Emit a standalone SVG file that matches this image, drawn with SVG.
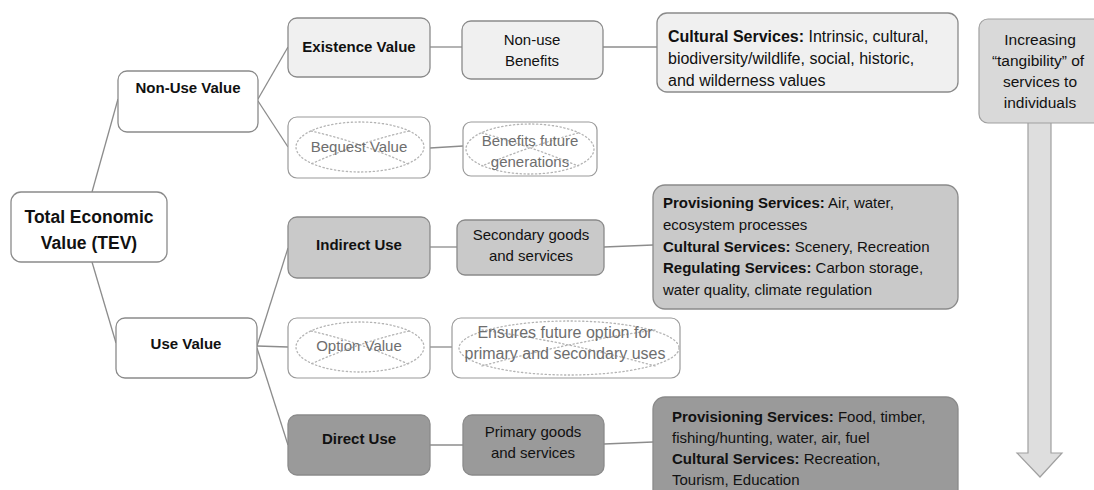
<svg xmlns="http://www.w3.org/2000/svg" width="1094" height="490" viewBox="0 0 1094 490">
  <style>
    text { font-family: "Liberation Sans", Arial, sans-serif; fill: #111; }
    .box { stroke: #8a8a8a; stroke-width: 1.3; }
    .white { fill: #ffffff; }
    .light { fill: #f0f0f0; }
    .mid { fill: #c9c9c9; }
    .dark { fill: #9a9a9a; }
    .tag { fill: #d9d9d9; }
    .faint { fill: #ffffff; stroke: #9a9a9a; stroke-width: 1.2; }
    .dots { fill: none; stroke: #b4b4b4; stroke-width: 1.3; stroke-dasharray: 1.3 2.6; stroke-linecap: round; }
    .lbl { font-size: 15px; font-weight: bold; text-anchor: middle; }
    .big { font-size: 17.5px; font-weight: bold; text-anchor: middle; }
    .sub { font-size: 15px; text-anchor: middle; }
    .ghost { font-size: 15px; text-anchor: middle; fill: #6e6e6e; }
    .para { font-size: 15px; }
    .para tspan.b { font-weight: bold; }
    .wide { font-size: 16px; }
    .tall { font-size: 15.5px; }
    .conn { stroke: #8c8c8c; stroke-width: 1.3; fill: none; }
  </style>

  <!-- connectors -->
  <g id="connectors" class="conn">
    <path d="M92,192 L118,99"/>
    <path d="M92,262 L116,343"/>
    <path d="M258,99 L288,47"/>
    <path d="M258,101 L288,147"/>
    <path d="M257,346 L288,248"/>
    <path d="M257,346 L288,347"/>
    <path d="M257,348 L288,445"/>
    <path d="M430,47 L462,47"/>
    <path d="M430,148 L463,146"/>
    <path d="M603,47 L657,47"/>
    <path d="M430,247 L457,247"/>
    <path d="M604,247 L653,245"/>
    <path d="M430,347 L452,347"/>
    <path d="M430,445 L463,445"/>
    <path d="M604,444 L653,442"/>
  </g>

  <!-- column 1 -->
  <g id="tev">
    <rect class="box white" x="11" y="192" width="156" height="70" rx="10"/>
    <text class="big" x="89" y="223">Total Economic</text>
    <text class="big" x="89" y="249">Value (TEV)</text>
  </g>

  <!-- column 2 -->
  <g id="non-use-value">
    <rect class="box white" x="118" y="71" width="140" height="61" rx="9"/>
    <text class="lbl" x="188" y="93">Non-Use Value</text>
  </g>
  <g id="use-value">
    <rect class="box white" x="116" y="318" width="141" height="60" rx="9"/>
    <text class="lbl" x="186" y="349">Use Value</text>
  </g>

  <!-- column 3 -->
  <g id="existence-value">
    <rect class="box light" x="288" y="18" width="142" height="59" rx="9"/>
    <text class="lbl" x="359" y="52">Existence Value</text>
  </g>
  <g id="bequest-value">
    <rect class="faint" x="288" y="117" width="142" height="61" rx="9"/>
    <ellipse class="dots" cx="360" cy="147" rx="64" ry="25"/>
    <path class="dots" d="M311,131 Q360,142 408,164"/>
    <path class="dots" d="M409,131 Q360,142 311,164"/>
    <text class="ghost" x="359" y="152">Bequest Value</text>
  </g>
  <g id="indirect-use">
    <rect class="box mid" x="288" y="217" width="142" height="61" rx="9"/>
    <text class="lbl" x="359" y="250">Indirect Use</text>
  </g>
  <g id="option-value">
    <rect class="faint" x="288" y="318" width="142" height="60" rx="9"/>
    <ellipse class="dots" cx="360" cy="347" rx="64" ry="25"/>
    <path class="dots" d="M311,331 Q360,342 408,364"/>
    <path class="dots" d="M409,331 Q360,342 311,364"/>
    <text class="ghost" x="359" y="351">Option Value</text>
  </g>
  <g id="direct-use">
    <rect class="box dark" x="288" y="415" width="142" height="60" rx="9"/>
    <text class="lbl" x="359" y="444">Direct Use</text>
  </g>

  <!-- column 4 -->
  <g id="non-use-benefits">
    <rect class="box light" x="462" y="21" width="141" height="58" rx="9"/>
    <text class="sub" x="532" y="45">Non-use</text>
    <text class="sub" x="532" y="66">Benefits</text>
  </g>
  <g id="benefits-future">
    <rect class="faint" x="463" y="122" width="134" height="54" rx="8"/>
    <ellipse class="dots" cx="530" cy="149" rx="64" ry="25"/>
    <path class="dots" d="M482,133 Q530,146 578,166"/>
    <path class="dots" d="M578,133 Q530,146 482,166"/>
    <text class="ghost" x="530" y="146">Benefits future</text>
    <text class="ghost" x="530" y="167">generations</text>
  </g>
  <g id="secondary-goods">
    <rect class="box mid" x="457" y="220" width="147" height="55" rx="8"/>
    <text class="sub" x="531" y="240">Secondary goods</text>
    <text class="sub" x="531" y="261">and services</text>
  </g>
  <g id="future-option">
    <rect class="faint" x="452" y="318" width="228" height="60" rx="9"/>
    <ellipse class="dots" cx="569" cy="348" rx="110" ry="27"/>
    <path class="dots" d="M482,330 Q569,342 655,366"/>
    <path class="dots" d="M655,330 Q569,342 482,366"/>
    <text class="ghost wide" x="565" y="338">Ensures future option for</text>
    <text class="ghost wide" x="565" y="359">primary and secondary uses</text>
  </g>
  <g id="primary-goods">
    <rect class="box dark" x="463" y="415" width="141" height="60" rx="9"/>
    <text class="sub" x="533" y="437">Primary goods</text>
    <text class="sub" x="533" y="458">and services</text>
  </g>

  <!-- column 5 -->
  <g id="cultural-nonuse">
    <rect class="box light" x="657" y="13" width="301" height="79" rx="10"/>
    <text class="para wide" x="668" y="42"><tspan class="b">Cultural Services:</tspan> Intrinsic, cultural,</text>
    <text class="para wide" x="668" y="64">biodiversity/wildlife, social, historic,</text>
    <text class="para wide" x="668" y="86">and wilderness values</text>
  </g>
  <g id="indirect-services">
    <rect class="box mid" x="653" y="185" width="305" height="124" rx="12"/>
    <text class="para" x="663" y="208"><tspan class="b">Provisioning Services:</tspan> Air, water,</text>
    <text class="para" x="663" y="230">ecosystem processes</text>
    <text class="para" x="663" y="252"><tspan class="b">Cultural Services:</tspan> Scenery, Recreation</text>
    <text class="para" x="663" y="273"><tspan class="b">Regulating Services:</tspan> Carbon storage,</text>
    <text class="para" x="663" y="295">water quality, climate regulation</text>
  </g>
  <g id="direct-services">
    <rect class="box dark" x="653" y="397" width="305" height="110" rx="12"/>
    <text class="para" x="672" y="422"><tspan class="b">Provisioning Services:</tspan> Food, timber,</text>
    <text class="para" x="672" y="443">fishing/hunting, water, air, fuel</text>
    <text class="para" x="672" y="464"><tspan class="b">Cultural Services:</tspan> Recreation,</text>
    <text class="para" x="672" y="485">Tourism, Education</text>
  </g>

  <!-- tangibility scale -->
  <g id="tangibility">
    <polygon points="1028,120 1051,120 1051,453 1062,453 1040,477 1017,453 1028,453" fill="#dedede" stroke="#a0a0a0" stroke-width="1.2"/>
    <rect class="tag" x="979" y="19" width="125" height="104" rx="9" stroke="#a0a0a0" stroke-width="1.2"/>
    <text class="sub tall" x="1040" y="45">Increasing</text>
    <text class="sub tall" x="1038" y="66">“tangibility” of</text>
    <text class="sub tall" x="1040" y="87">services to</text>
    <text class="sub tall" x="1040" y="108">individuals</text>
  </g>
</svg>
